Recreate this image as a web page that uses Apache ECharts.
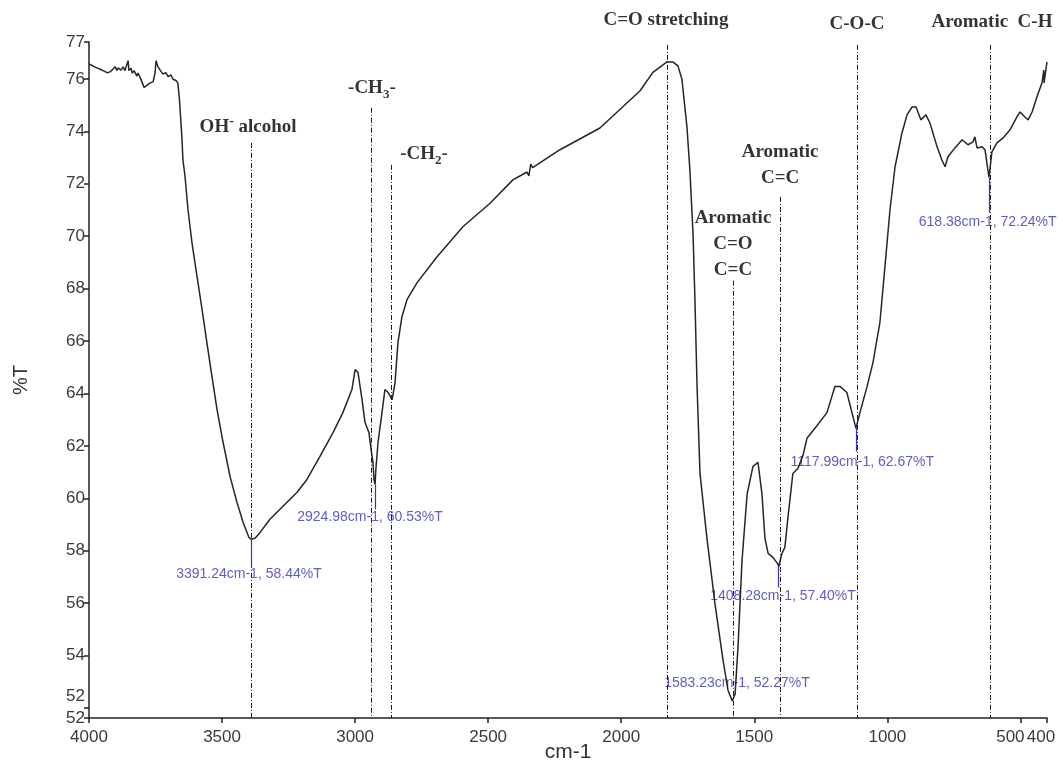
<!DOCTYPE html>
<html><head><meta charset="utf-8">
<script src="https://cdn.jsdelivr.net/npm/echarts@6/dist/echarts.min.js"></script>
<style>html,body{margin:0;padding:0;background:#fff}#c{width:1063px;height:768px}</style>
</head><body><div id="c"></div>
<script>
// Spectrum (wavenumber cm-1, %T)
const wavenumbers = [4000,3977,3951,3932,3921,3910,3902,3895,3891,3880,3872,3865,3853,3850,3842,3838,3831,3820,3816,3808,3801,3793,3771,3759,3752,3748,3741,3729,3722,3711,3703,3692,3684,3673,3666,3660,3651,3647,3639,3628,3613,3594,3575,3557,3538,3519,3496,3470,3444,3421,3399,3391,3376,3357,3320,3271,3218,3181,3132,3083,3046,3012,3000,2989,2974,2963,2948,2940,2933,2929,2925,2922,2914,2899,2888,2876,2861,2858,2850,2839,2824,2805,2767,2692,2595,2493,2407,2354,2347,2340,2333,2230,2080,1929,1881,1828,1806,1787,1772,1753,1742,1730,1723,1715,1704,1678,1648,1618,1599,1583,1572,1561,1546,1527,1505,1486,1471,1460,1448,1430,1411,1408,1396,1385,1373,1355,1336,1317,1302,1264,1227,1197,1178,1152,1133,1118,1103,1076,1054,1028,1009,990,971,945,926,907,892,874,855,840,813,795,783,772,746,719,697,678,671,663,644,633,618,607,588,565,539,513,501,483,471,456,438,419,412,411,400];
const transmittance = [76.57,76.45,76.34,76.24,76.27,76.37,76.47,76.32,76.42,76.34,76.46,76.32,76.70,76.32,76.41,76.22,76.32,76.11,76.22,76.06,76.11,75.68,75.84,75.90,76.22,76.70,76.47,76.28,76.19,76.24,76.09,76.15,75.99,75.94,75.84,75.20,73.79,72.91,72.27,71.01,69.75,68.46,67.20,65.94,64.65,63.39,62.13,60.84,59.85,59.09,58.51,58.44,58.48,58.70,59.20,59.70,60.23,60.72,61.60,62.51,63.27,64.15,64.91,64.80,63.77,62.90,62.51,61.87,61.37,60.72,60.53,61.10,62.13,63.27,64.15,64.04,63.77,63.70,64.41,65.94,66.93,67.58,68.23,69.22,70.36,71.26,72.15,72.45,72.30,72.75,72.62,73.30,74.13,75.55,76.25,76.65,76.65,76.50,76.00,74.17,72.53,70.06,67.58,64.27,60.95,58.48,56.00,53.87,52.69,52.27,52.53,54.36,57.64,60.15,61.22,61.37,60.15,58.48,57.90,57.75,57.49,57.40,57.90,58.13,59.31,60.95,61.14,61.64,62.29,62.78,63.27,64.27,64.27,64.04,63.27,62.67,63.27,64.27,65.18,66.70,68.84,71.01,72.65,73.94,74.63,74.93,74.93,74.44,74.63,74.32,73.41,72.91,72.65,73.03,73.37,73.68,73.49,73.60,73.79,73.37,73.41,73.30,72.24,73.22,73.56,73.75,74.06,74.55,74.74,74.55,74.44,74.74,75.31,75.85,76.34,75.85,76.65];

// Axis extents and tick labels
const xMin = 400, xMax = 4000;
const yMin = 51.62, yMax = 77.41;
const xTicks = [500, 1000, 1500, 2000, 2500, 3000, 3500, 4000];
const xEndTicks = [400];
const yTicks = [51.62, 52, 54, 56, 58, 60, 62, 64, 66, 68, 70, 72, 74, 76, 77.41];

// Band assignments (dash-dot guide lines and bold labels)
const bandNames = ['{b|OH}{sup|-}{b| alcohol}', '{b|-CH}{sub|3}{b|-}', '{b|-CH}{sub|2}{b|-}', '{b|C=O stretching}', '{b|Aromatic}\n{b|C=C}', '{b|Aromatic}\n{b|C=O}\n{b|C=C}', '{b|C-O-C}', '{b|Aromatic  C-H}'];
const bandLineWn = [3391, 2940, 2865, 1828, 1580, 1403, 1114, 614];
const bandLineTop = [73.56, 74.90, 72.72, 77.30, 68.30, 71.50, 77.30, 77.30];
const bandLabelWn = [3402, 2937, 2741, 1832, 1403, 1580, 1114, 607];
const bandLabelT = [74.17, 75.66, 73.14, 78.25, 72.72, 69.71, 78.10, 78.17];

// Peak picks (blue)
const peakWn = [3391.24, 2924.98, 1583.23, 1408.28, 1117.99, 618.38];
const peakT = [58.44, 60.53, 52.27, 57.40, 62.67, 72.24];
const peakTickEndT = [57.41, 59.58, 52.27, 56.60, 61.79, 70.90];
const peakLabelWn = [3399, 2944, 1565, 1392, 1094, 623];
const peakLabelT = [57.10, 59.28, 52.95, 56.27, 61.37, 70.55];

const blue = '#3434b8';
const lineColor = '#262626';
const axisColor = '#222';
const labelColor = '#3a3a3a';
const sans = '"Liberation Sans", Arial, sans-serif';
const serif = '"Liberation Serif", "Times New Roman", serif';

const spectrum = wavenumbers.map((w, i) => [w, transmittance[i]]);

const markLines = [];
bandLineWn.forEach((w, i) => {
  markLines.push([{coord: [w, bandLineTop[i]]}, {coord: [w, yMin]}]);
});
peakWn.forEach((w, i) => {
  if (peakTickEndT[i] !== peakT[i]) {
    markLines.push([{coord: [w, peakT[i]], lineStyle: {color: blue, type: 'solid', width: 1.2}}, {coord: [w, peakTickEndT[i]]}]);
  }
});

const shiftRich = {
  s20: {fontSize: 17, color: labelColor, fontFamily: sans, padding: [0, 20, 0, 0]},
  s12: {fontSize: 17, color: labelColor, fontFamily: sans, padding: [0, 12, 0, 0]}
};

const chart = echarts.init(document.getElementById('c'), null, {renderer: 'canvas'});
chart.setOption({
  animation: false,
  backgroundColor: '#fff',
  grid: {left: 89, right: 16, top: 42, bottom: 50, containLabel: false, outerBoundsMode: 'none'},
  xAxis: [{
    type: 'value', min: xMin, max: xMax, inverse: true,
    name: 'cm-1', nameLocation: 'middle', nameGap: 24, nameMoveOverlap: false,
    nameTextStyle: {fontSize: 21, color: '#333', fontFamily: sans},
    axisLine: {show: true, onZero: false, lineStyle: {color: axisColor, width: 1.5}},
    axisTick: {show: true, length: 5, customValues: xTicks, lineStyle: {color: axisColor, width: 1.5}},
    axisLabel: {fontSize: 17, color: labelColor, fontFamily: sans, margin: 11, customValues: xTicks,
      hideOverlap: false, formatter: v => (v === 500 ? '{s20|500}' : String(Math.round(v))), rich: shiftRich},
    splitLine: {show: false}
  }, {
    type: 'value', min: xMin, max: xMax, inverse: true, position: 'bottom',
    axisLine: {show: false},
    axisTick: {show: true, length: 5, customValues: xEndTicks, lineStyle: {color: axisColor, width: 1.5}},
    axisLabel: {fontSize: 17, color: labelColor, fontFamily: sans, margin: 11, customValues: xEndTicks,
      hideOverlap: false, formatter: v => '{s12|' + Math.round(v) + '}', rich: shiftRich},
    splitLine: {show: false}
  }],
  yAxis: {
    type: 'value', min: yMin, max: yMax,
    name: '%T', nameLocation: 'middle', nameGap: 58,
    nameTextStyle: {fontSize: 20, color: '#333', fontFamily: sans},
    axisLine: {show: true, onZero: false, lineStyle: {color: axisColor, width: 1.5}},
    axisTick: {show: true, length: 5, customValues: yTicks, lineStyle: {color: axisColor, width: 1.5}},
    axisLabel: {fontSize: 17, color: labelColor, fontFamily: sans, margin: 4, customValues: yTicks,
      hideOverlap: false, showMinLabel: true, showMaxLabel: true,
      formatter: v => (v === 52 ? '{up|52}' : String(Math.round(v))),
      rich: {up: {fontSize: 17, color: labelColor, fontFamily: sans, padding: [0, 0, 24, 0]}}},
    splitLine: {show: false}
  },
  series: [
    {
      type: 'line', data: spectrum, symbol: 'none', silent: true,
      lineStyle: {color: lineColor, width: 1.5},
      markLine: {
        silent: true, symbol: ['none', 'none'], animation: false,
        label: {show: false},
        lineStyle: {color: '#1a1a1a', width: 1, type: [5, 2, 1, 2]},
        data: markLines
      }
    },
    {
      type: 'scatter', symbolSize: 0, clip: false, silent: true,
      data: bandLabelWn.map((w, i) => ({value: [w, bandLabelT[i]], label: {formatter: bandNames[i]}})),
      label: {
        show: true, position: 'inside', align: 'center', verticalAlign: 'middle',
        rich: {
          b: {fontFamily: serif, fontWeight: 'bold', fontSize: 19, color: '#000', lineHeight: 26},
          sub: {fontFamily: serif, fontWeight: 'bold', fontSize: 13, color: '#000', lineHeight: 14, verticalAlign: 'bottom'},
          sup: {fontFamily: serif, fontWeight: 'bold', fontSize: 14, color: '#000', lineHeight: 14, verticalAlign: 'top'}
        }
      }
    },
    {
      type: 'scatter', symbolSize: 0, clip: false, silent: true,
      data: peakLabelWn.map((w, i) => ({value: [w, peakLabelT[i]],
        label: {formatter: peakWn[i].toFixed(2) + 'cm-1, ' + peakT[i].toFixed(2) + '%T'}})),
      label: {show: true, position: 'inside', align: 'center', verticalAlign: 'middle',
        fontFamily: sans, fontSize: 14, color: blue}
    }
  ]
});
</script>
</body></html>
